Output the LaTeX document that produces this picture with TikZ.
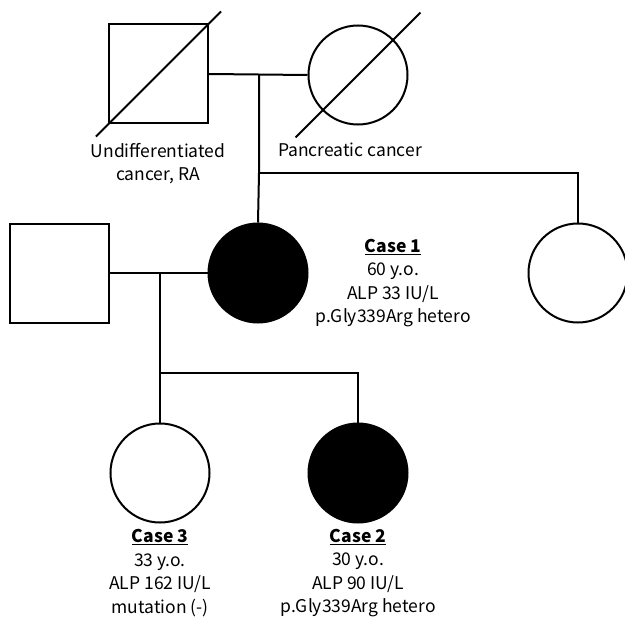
\documentclass[tikz,border=0pt]{standalone}
\usepackage{fontspec}
\setmainfont{Noto Sans CJK JP}
\usetikzlibrary{calc}
\begin{document}
\begin{tikzpicture}[x=1pt,y=-1pt,
  line width=2pt,
  male/.style={draw,rectangle,minimum size=99pt,inner sep=0pt},
  female/.style={draw,circle,minimum size=99pt,inner sep=0pt},
  affected/.style={fill=black},
  lbl/.style={align=center,font=\fontsize{17.5}{23.5}\selectfont,inner sep=0pt}]
\useasboundingbox (0,0) rectangle (625,618);
% generation I
\node[male] (gf) at (158.5,74) {};
\node[female] (gm) at (358,75) {};
\draw ($(gf.center)!1.24!(gf.south west)$) -- ($(gf.center)!1.24!(gf.north east)$);
\draw ($(gm.center)!1.75!(gm.south west)$) -- ($(gm.center)!1.75!(gm.north east)$);
\coordinate (m1) at (259,75);
\draw (gf.east) -- (gm.west);
\node[lbl,anchor=north] (t1) at (158,142) {Undifferentiated\\cancer, RA};
\node[lbl,anchor=north west] (t2) at (277,142) {Pancreatic cancer};
% generation II
\node[male] (hu) at (59,273) {};
\node[female,affected] (c1) at (258,273) {};
\node[female] (si) at (578,273) {};
\coordinate (s1) at (259,173);
\coordinate (s2) at (578,173);
\draw (m1) -- (s1) -- (c1.north);
\draw (s1) -- (s2) -- (si.north);
\draw (hu.east) -- (c1.west);
\node[lbl] (l1) at (393,283) {\textbf{\underline{Case 1}}\\60 y.o.\\ALP 33 IU/L\\p.Gly339Arg hetero};
% generation III
\coordinate (m2) at (160,273);
\coordinate (k1) at (160,373);
\coordinate (k2) at (358,373);
\node[female] (c3) at (160,473) {};
\node[female,affected] (c2) at (358,473) {};
\draw (m2) -- (k1) -- (c3.north);
\draw (k1) -- (k2) -- (c2.north);
\node[lbl] (l3) at (160,573) {\textbf{\underline{Case 3}}\\33 y.o.\\ALP 162 IU/L\\mutation (-)};
\node[lbl] (l2) at (358,573) {\textbf{\underline{Case 2}}\\30 y.o.\\ALP 90 IU/L\\p.Gly339Arg hetero};
\end{tikzpicture}
\end{document}
